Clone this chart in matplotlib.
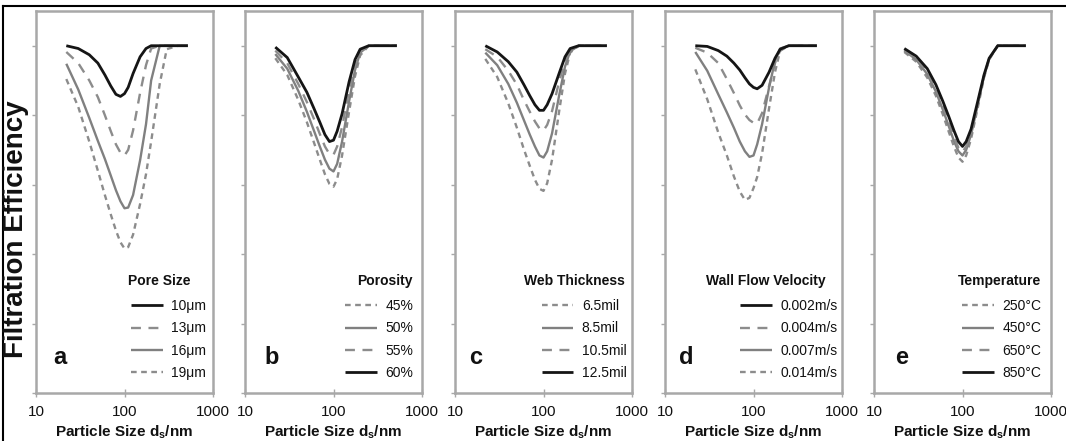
import matplotlib
matplotlib.use('Agg')
import matplotlib.pyplot as plt
from matplotlib.lines import Line2D

plt.rcParams['font.family'] = ['Liberation Sans', 'DejaVu Sans']
plt.rcParams['mathtext.fontset'] = 'custom'
plt.rcParams['mathtext.rm'] = 'Liberation Sans'
plt.rcParams['mathtext.bf'] = 'Liberation Sans:bold'

# ---------------- data ----------------
particle_size = [22, 30, 40, 50, 60, 70, 80, 90, 100, 110, 125, 150, 175, 200, 250, 300, 400, 520]

# (a) Pore size
pore_labels = ['10μm', '13μm', '16μm', '19μm']
pore_10 = [1.000, 0.996, 0.987, 0.975, 0.958, 0.942, 0.930, 0.927, 0.931, 0.940, 0.960, 0.984, 0.996, 1.000, 1.000, 1.000, 1.000, 1.000]
pore_13 = [0.991, 0.975, 0.950, 0.926, 0.900, 0.877, 0.858, 0.846, 0.842, 0.850, 0.878, 0.932, 0.972, 0.996, 1.000, 1.000, 1.000, 1.000]
pore_16 = [0.974, 0.937, 0.896, 0.863, 0.837, 0.813, 0.792, 0.776, 0.766, 0.767, 0.785, 0.835, 0.887, 0.950, 1.000, 1.000, 1.000, 1.000]
pore_19 = [0.952, 0.912, 0.862, 0.820, 0.785, 0.757, 0.734, 0.717, 0.708, 0.710, 0.728, 0.772, 0.815, 0.862, 0.945, 0.995, 1.000, 1.000]

# (b) Porosity
porosity_labels = ['45%', '50%', '55%', '60%']
poro_45 = [0.982, 0.958, 0.922, 0.890, 0.861, 0.836, 0.815, 0.801, 0.797, 0.808, 0.842, 0.905, 0.956, 0.986, 1.000, 1.000, 1.000, 1.000]
poro_50 = [0.988, 0.967, 0.935, 0.905, 0.878, 0.855, 0.836, 0.823, 0.819, 0.830, 0.862, 0.920, 0.965, 0.990, 1.000, 1.000, 1.000, 1.000]
poro_55 = [0.993, 0.975, 0.945, 0.919, 0.895, 0.873, 0.855, 0.844, 0.843, 0.855, 0.883, 0.935, 0.972, 0.992, 1.000, 1.000, 1.000, 1.000]
poro_60 = [0.998, 0.983, 0.955, 0.933, 0.910, 0.890, 0.872, 0.862, 0.864, 0.877, 0.902, 0.948, 0.980, 0.995, 1.000, 1.000, 1.000, 1.000]

# (c) Web thickness
web_labels = ['6.5mil', '8.5mil', '10.5mil', '12.5mil']
web_65 = [0.981, 0.955, 0.917, 0.882, 0.851, 0.827, 0.807, 0.794, 0.791, 0.802, 0.836, 0.905, 0.960, 0.990, 1.000, 1.000, 1.000, 1.000]
web_85 = [0.990, 0.972, 0.945, 0.918, 0.893, 0.872, 0.855, 0.842, 0.839, 0.848, 0.874, 0.928, 0.970, 0.992, 1.000, 1.000, 1.000, 1.000]
web_105 = [0.995, 0.984, 0.964, 0.944, 0.922, 0.905, 0.891, 0.881, 0.878, 0.886, 0.906, 0.948, 0.978, 0.994, 1.000, 1.000, 1.000, 1.000]
web_125 = [1.000, 0.991, 0.977, 0.962, 0.944, 0.928, 0.915, 0.907, 0.907, 0.915, 0.931, 0.960, 0.984, 0.996, 1.000, 1.000, 1.000, 1.000]

# (d) Wall flow velocity
vel_labels = ['0.002m/s', '0.004m/s', '0.007m/s', '0.014m/s']
vel_002 = [1.000, 0.999, 0.993, 0.985, 0.975, 0.965, 0.954, 0.945, 0.940, 0.938, 0.943, 0.962, 0.982, 0.995, 1.000, 1.000, 1.000, 1.000]
vel_004 = [0.997, 0.990, 0.975, 0.952, 0.932, 0.914, 0.901, 0.893, 0.889, 0.888, 0.903, 0.942, 0.975, 0.993, 1.000, 1.000, 1.000, 1.000]
vel_007 = [0.991, 0.964, 0.930, 0.904, 0.882, 0.862, 0.848, 0.840, 0.842, 0.858, 0.887, 0.940, 0.978, 0.996, 1.000, 1.000, 1.000, 1.000]
vel_014 = [0.966, 0.923, 0.875, 0.842, 0.812, 0.790, 0.778, 0.781, 0.795, 0.811, 0.845, 0.910, 0.962, 0.993, 1.000, 1.000, 1.000, 1.000]

# (e) Temperature
temp_labels = ['250°C', '450°C', '650°C', '850°C']
temp_250 = [0.991, 0.977, 0.954, 0.928, 0.901, 0.876, 0.855, 0.839, 0.833, 0.842, 0.866, 0.913, 0.954, 0.980, 1.000, 1.000, 1.000, 1.000]
temp_450 = [0.993, 0.980, 0.959, 0.934, 0.908, 0.884, 0.863, 0.848, 0.842, 0.850, 0.872, 0.917, 0.956, 0.981, 1.000, 1.000, 1.000, 1.000]
temp_650 = [0.994, 0.982, 0.962, 0.938, 0.913, 0.890, 0.869, 0.853, 0.847, 0.855, 0.875, 0.919, 0.957, 0.981, 1.000, 1.000, 1.000, 1.000]
temp_850 = [0.996, 0.985, 0.967, 0.944, 0.920, 0.898, 0.878, 0.862, 0.855, 0.862, 0.880, 0.922, 0.958, 0.982, 1.000, 1.000, 1.000, 1.000]

panel_letters = ['a', 'b', 'c', 'd', 'e']
legend_titles = ['Pore Size', 'Porosity', 'Web Thickness', 'Wall Flow Velocity', 'Temperature']
x_ticks = [10, 100, 1000]
x_tick_labels = ['10', '100', '1000']
y_ticks = [0.5, 0.6, 0.7, 0.8, 0.9, 1.0]

# ---------------- styles ----------------
STY = {
    'black': dict(color='#151515', lw=2.0, ls='-'),
    'solid': dict(color='#808080', lw=1.7, ls='-'),
    'long':  dict(color='#8c8c8c', lw=1.7, ls=(0, (4.2, 3.2))),
    'short': dict(color='#8c8c8c', lw=1.7, ls=(0, (2.4, 1.9))),
}

panels = [
    (pore_labels, [pore_10, pore_13, pore_16, pore_19], ['black', 'long', 'solid', 'short']),
    (porosity_labels, [poro_45, poro_50, poro_55, poro_60], ['short', 'solid', 'long', 'black']),
    (web_labels, [web_65, web_85, web_105, web_125], ['short', 'solid', 'long', 'black']),
    (vel_labels, [vel_002, vel_004, vel_007, vel_014], ['black', 'long', 'solid', 'short']),
    (temp_labels, [temp_250, temp_450, temp_650, temp_850], ['short', 'solid', 'long', 'black']),
]

W, H = 1066, 441
fig = plt.figure(figsize=(W / 100, H / 100), dpi=100)
fig.patch.set_facecolor('white')

lefts_px = [36, 245, 455, 665, 874]
ax_w_px = 177
ax_top_px, ax_bot_px = 11, 393
leg_right = [0.962, 0.952, 0.970, 0.976, 0.946]
title_right = [0.875, 0.945, 0.957, 0.906, 0.944]
letter_x = [0.095, 0.11, 0.08, 0.08, 0.12]
frame_col = '#a8a8a8'

for i, (labels, series, styles) in enumerate(panels):
    ax = fig.add_axes([lefts_px[i] / W, 1 - ax_bot_px / H, ax_w_px / W, (ax_bot_px - ax_top_px) / H])
    handles = {}
    order = sorted(range(4), key=lambda k: 1 if styles[k] == 'black' else 0)
    for k in order:
        s = STY[styles[k]]
        ln, = ax.plot(particle_size, series[k], color=s['color'], lw=s['lw'], ls=s['ls'],
                      solid_capstyle='butt', dash_capstyle='butt')
        handles[k] = ln
    ax.set_xscale('log')
    ax.set_xlim(10, 1000)
    ax.set_ylim(0.5, 1.05)
    ax.set_xticks(x_ticks)
    ax.set_xticklabels(x_tick_labels)
    ax.minorticks_off()
    ax.set_yticks(y_ticks)
    ax.set_yticklabels([])
    ax.tick_params(axis='x', direction='inout', length=6, width=1, color=frame_col,
                   labelsize=11, pad=5.5, labelcolor='#111111')
    ax.tick_params(axis='y', direction='out', length=3, width=1, color=frame_col)
    for sp in ax.spines.values():
        sp.set_color(frame_col)
        sp.set_linewidth(1.8)
    ax.set_xlabel(r'Particle Size d$_\mathbf{s}$/nm', fontsize=11, fontweight='bold',
                  labelpad=3.5, color='#111111')
    leg = ax.legend([handles[k] for k in range(4)], labels, loc='upper right',
                    bbox_to_anchor=(leg_right[i], 0.246), frameon=False, fontsize=10,
                    handlelength=2.3, handletextpad=0.6, labelspacing=0.6,
                    borderpad=0, borderaxespad=0)
    for t in leg.get_texts():
        t.set_color('#111111')
    ax.text(title_right[i], 0.293, legend_titles[i], transform=ax.transAxes,
            ha='right', va='center', fontsize=10, fontweight='bold', color='#111111')
    ax.text(letter_x[i], 0.076, panel_letters[i], transform=ax.transAxes,
            ha='left', va='baseline', fontsize=17, fontweight='bold', color='#111111')

fig.text(16.5 / W, 1 - 229 / H, 'Filtration Efficiency', rotation=90, ha='center', va='center',
         fontsize=20, fontweight='bold', color='#111111')

# outer frame lines (top and left)
fig.add_artist(Line2D([3 / W, 1], [1 - 6 / H, 1 - 6 / H], color='black', lw=1.5,
                      transform=fig.transFigure))
fig.add_artist(Line2D([3 / W, 3 / W], [0, 1 - 6 / H], color='black', lw=1.5,
                      transform=fig.transFigure))

fig.savefig('out.png', dpi=100, facecolor='white')
